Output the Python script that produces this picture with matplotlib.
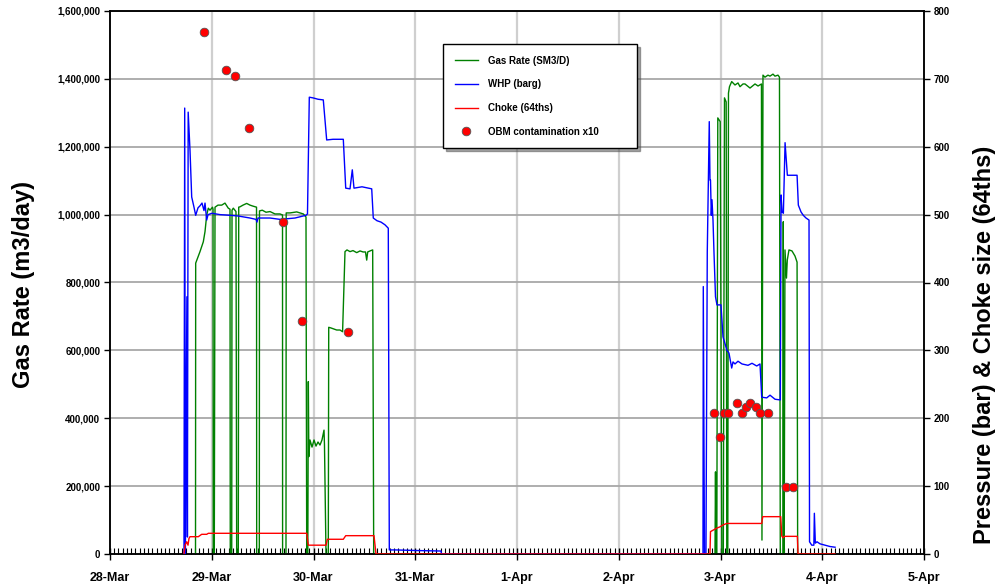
import matplotlib
matplotlib.use("Agg")
import matplotlib.pyplot as plt
import matplotlib.dates as mdates
import matplotlib.ticker as mticker
import numpy as np
import datetime as dt

plt.rcParams['font.family'] = ['Liberation Sans', 'DejaVu Sans']
plt.rcParams['font.weight'] = 'bold'

# ---- data (time in hours after 28-Mar 00:00) ----
gas_hours = [20.17, 20.21, 21.23, 22.01, 22.41, 22.81, 23.19, 23.59, 24.18, 24.30, 24.36, 24.60, 24.77, 25.47,
             26.35, 27.12, 27.90, 28.30, 28.37, 28.71, 28.78, 29.08, 29.72, 29.88, 30.26, 30.36, 30.66, 31.37,
             32.24, 33.02, 33.73, 34.56, 34.60, 35.22, 35.26, 35.92, 36.80, 37.74, 38.92, 40.10, 40.69, 40.71,
             41.51, 41.56, 42.46, 44.04, 45.60, 46.23, 46.40, 46.66, 46.78, 46.90, 47.17, 47.65, 48.12, 48.59,
             49.06, 49.53, 50.00, 50.48, 50.59, 50.95, 51.49, 51.59, 52.13, 52.83, 53.47, 54.25, 54.86, 55.43,
             55.90, 56.61, 57.32, 58.19, 58.97, 59.68, 60.26, 60.55, 60.78, 61.33, 61.96, 62.20,
             142.70, 142.82, 142.94, 143.13, 143.36, 143.93, 144.31, 144.66, 144.94, 145.34, 145.48, 145.72,
             145.88, 146.12, 146.64, 147.42, 148.13, 148.60, 149.31, 149.78, 150.96, 152.14, 152.85, 153.66,
             153.78, 154.02, 154.49, 155.20, 155.67, 156.38, 156.85, 157.56, 157.91, 158.10, 158.74, 158.81,
             158.88, 159.02, 159.21, 159.56, 159.75, 160.15, 160.86, 161.57, 162.06, 162.20, 171.0]
gas_rate = [0, 857000, 891000, 920000, 950000, 999000, 1019000, 1013000, 1022000, 1016000, 0, 0, 1022000, 1028000,
            1028000, 1034000, 1019000, 1016000, 0, 0, 1013000, 1019000, 1009000, 0, 0, 1022000, 1023000, 1028000,
            1033000, 1028000, 1025000, 1022000, 0, 0, 1011000, 1013000, 1007000, 1009000, 1002000, 1002000, 999000, 0,
            0, 1005000, 1005000, 1008000, 1002000, 993000, 0, 0, 508000, 287000, 336000, 315000, 336000, 318000,
            330000, 321000, 336000, 365000, 321000, 0, 0, 668000, 666000, 663000, 660000, 660000, 655000, 891000,
            896000, 891000, 894000, 888000, 893000, 890000, 890000, 866000, 890000, 893000, 896000, 0,
            0, 242000, 0, 0, 1285000, 1274000, 0, 0, 1344000, 1332000, 0, 0,
            1358000, 1377000, 1392000, 1382000, 1388000, 1377000, 1385000, 1385000, 1373000, 1385000, 1379000, 1385000,
            41000, 1411000, 1405000, 1411000, 1408000, 1414000, 1408000, 1411000, 1405000, 0, 0, 979000,
            0, 0, 896000, 813000, 866000, 896000, 893000, 878000, 860000, 0, 0]

whp_hours = [17.45, 17.62, 17.78, 18.14, 18.26, 18.44, 18.87, 19.27, 19.81, 20.21, 20.76, 21.23, 21.70, 22.17,
             22.41, 22.81, 23.12, 24.06, 25.95, 28.30, 30.19, 33.02, 34.44, 34.67, 34.91, 37.74, 40.10, 43.64,
             46.23, 46.58, 47.01, 47.88, 49.06, 50.31, 51.11, 52.60, 55.03, 55.60, 56.61, 57.15, 57.55, 59.44,
             61.73, 62.10, 62.98, 63.92, 64.86, 65.64, 65.88, 67.22, 73.12, 78.07, 78.19, 139.87,
             139.94, 140.22, 140.57, 140.88, 141.35, 141.52, 141.64, 141.83, 141.99, 142.23, 142.47, 142.82,
             143.17, 144.11, 144.59, 145.53, 146.00, 146.64, 146.95, 147.42, 148.13, 149.07, 150.49, 151.43,
             152.54, 153.32, 153.72, 154.90, 155.68, 156.86, 158.11, 158.28, 158.52, 158.83, 159.23, 159.77,
             162.06, 162.36, 162.99, 163.53, 164.17, 164.88, 165.00, 165.52, 166.02, 166.14, 166.37, 166.76,
             167.47, 168.65, 169.84, 171.02]
whp_barg = [0, 657, 0, 379, 25, 651, 595, 526, 511, 499, 510, 513, 517, 506,
            517, 492, 500, 502, 500, 499, 498, 495, 493, 489, 495, 495, 493, 495,
            499, 501, 673, 672, 670, 669, 610, 611, 611, 539, 538, 566, 539, 541,
            538, 495, 491, 489, 485, 480, 6, 6, 5, 4.4, 0, 0,
            394, 0, 0, 445, 637, 551, 551, 499, 522, 492, 443, 379,
            367, 367, 320, 300, 296, 274, 283, 280, 284, 280, 278, 281,
            277, 280, 231, 230, 234, 228, 227, 529, 504, 502, 606, 558,
            558, 514, 504, 499, 495, 492, 18, 13, 13, 60, 16, 18,
            15, 13, 11, 10]

choke_hours = [17.45, 17.69, 18.09, 18.40, 18.63, 18.87, 20.83, 21.63, 22.81, 23.19, 46.40, 46.78, 50.95, 51.26,
               55.03, 55.60, 62.27, 62.74, 141.52, 141.64, 143.09, 143.88, 144.66, 145.46, 153.72, 153.96,
               158.21, 158.45, 158.75, 159.11, 162.13, 162.29, 171.0]
choke_64ths = [0, 13, 18, 13, 23, 25.5, 25.5, 29, 29, 30.5, 30.5, 13, 13, 21.7,
               21.7, 27, 27, 0, 0, 33, 38, 40, 43, 45, 45, 55,
               55, 26.5, 24, 26, 26, 0, 0]

obm_hours = [22.17, 27.36, 29.48, 32.79, 40.88, 45.29, 56.07, 142.35, 143.93, 144.94, 145.88, 147.82, 149.00,
             149.94, 150.96, 152.30, 153.32, 155.28, 159.37, 161.16]
obm_x10 = [769, 713, 704, 628, 489, 343, 327, 207, 173, 207, 207, 223, 207,
           217, 223, 217, 207, 207, 98, 98]

x_start = "2009-03-28"
x_end = "2009-04-05"

# ---- plot ----
base = mdates.date2num(dt.datetime(2009, 3, 28))
def tnum(h):
    return base + np.asarray(h) / 24.0

fig = plt.figure(figsize=(9.97, 5.85), dpi=100)
ax1 = fig.add_axes([110/997, 1-554/585, 814/997, 543/585])
ax2 = ax1.twinx()

green = '#008000'
blue = '#0000ff'
red = '#ff0000'

l1, = ax1.plot(tnum(gas_hours), gas_rate, color=green, lw=1.0, label='Gas Rate (SM3/D)', zorder=3)
l2, = ax2.plot(tnum(whp_hours), whp_barg, color=blue, lw=1.0, label='WHP (barg)', zorder=3)
l3, = ax2.plot(tnum(choke_hours), choke_64ths, color=red, lw=1.0, label='Choke (64ths)', zorder=4)
l4, = ax2.plot(tnum(obm_hours), obm_x10, linestyle='none', marker='o', markersize=6.2,
               markerfacecolor=red, markeredgecolor='#555555', markeredgewidth=0.6,
               label='OBM contamination x10', zorder=5)

ax1.set_xlim(mdates.datestr2num(x_start), mdates.datestr2num(x_end))
ax1.set_ylim(0, 1600000)
ax2.set_ylim(0, 800)

ax1.yaxis.set_major_locator(mticker.MultipleLocator(200000))
ax1.yaxis.set_major_formatter(mticker.FuncFormatter(lambda v, p: f'{v:,.0f}'))
ax2.yaxis.set_major_locator(mticker.MultipleLocator(100))

ax1.xaxis.set_major_locator(mdates.DayLocator())
ax1.xaxis.set_major_formatter(mdates.DateFormatter('%-d-%b'))
ax1.xaxis.set_minor_locator(mdates.HourLocator(interval=1))

# grids
ax1.grid(False)
for d in range(1, 8):
    ax1.axvline(base + d, color='#cfcfcf', lw=1.6, zorder=0)
for v in range(200000, 1600001, 200000):
    ax1.axhline(v, color='#a8a8a8', lw=1.3, zorder=0)

ax1.tick_params(axis='x', which='major', direction='inout', length=8, width=1, labelsize=9, pad=9)
ax1.tick_params(axis='x', which='minor', direction='in', length=4, width=0.8)
ax1.tick_params(axis='y', which='major', direction='out', length=4, width=1, labelsize=7, pad=3)
ax2.tick_params(axis='y', which='major', direction='out', length=4, width=1, labelsize=7, pad=3)
for lab in ax1.get_xticklabels() + ax1.get_yticklabels() + ax2.get_yticklabels():
    lab.set_fontweight('bold')

for ax in (ax1, ax2):
    for s in ax.spines.values():
        s.set_color('black')
        s.set_linewidth(1.1)

ax1.set_ylabel('Gas Rate (m3/day)', fontsize=17, fontweight='bold')
ax1.yaxis.set_label_coords(-0.092, 0.496)
ax2.set_ylabel('Pressure (bar) & Choke size (64ths)', fontsize=17, fontweight='bold', rotation=90)
ax2.yaxis.set_label_coords(1.060, 0.385)

leg = ax2.legend(handles=[l1, l2, l3, l4], loc='upper left',
                 bbox_to_anchor=(0.409, 0.7477, 0.2383, 0.1915), mode='expand',
                 fontsize=7, frameon=True, fancybox=False, shadow=True, edgecolor='black',
                 framealpha=1, borderpad=1.2, labelspacing=1.4, handlelength=2.4,
                 handletextpad=1.0, borderaxespad=0)
leg.get_frame().set_linewidth(1.0)
for t in leg.get_texts():
    t.set_fontweight('bold')

fig.savefig('out.png', dpi=100)
